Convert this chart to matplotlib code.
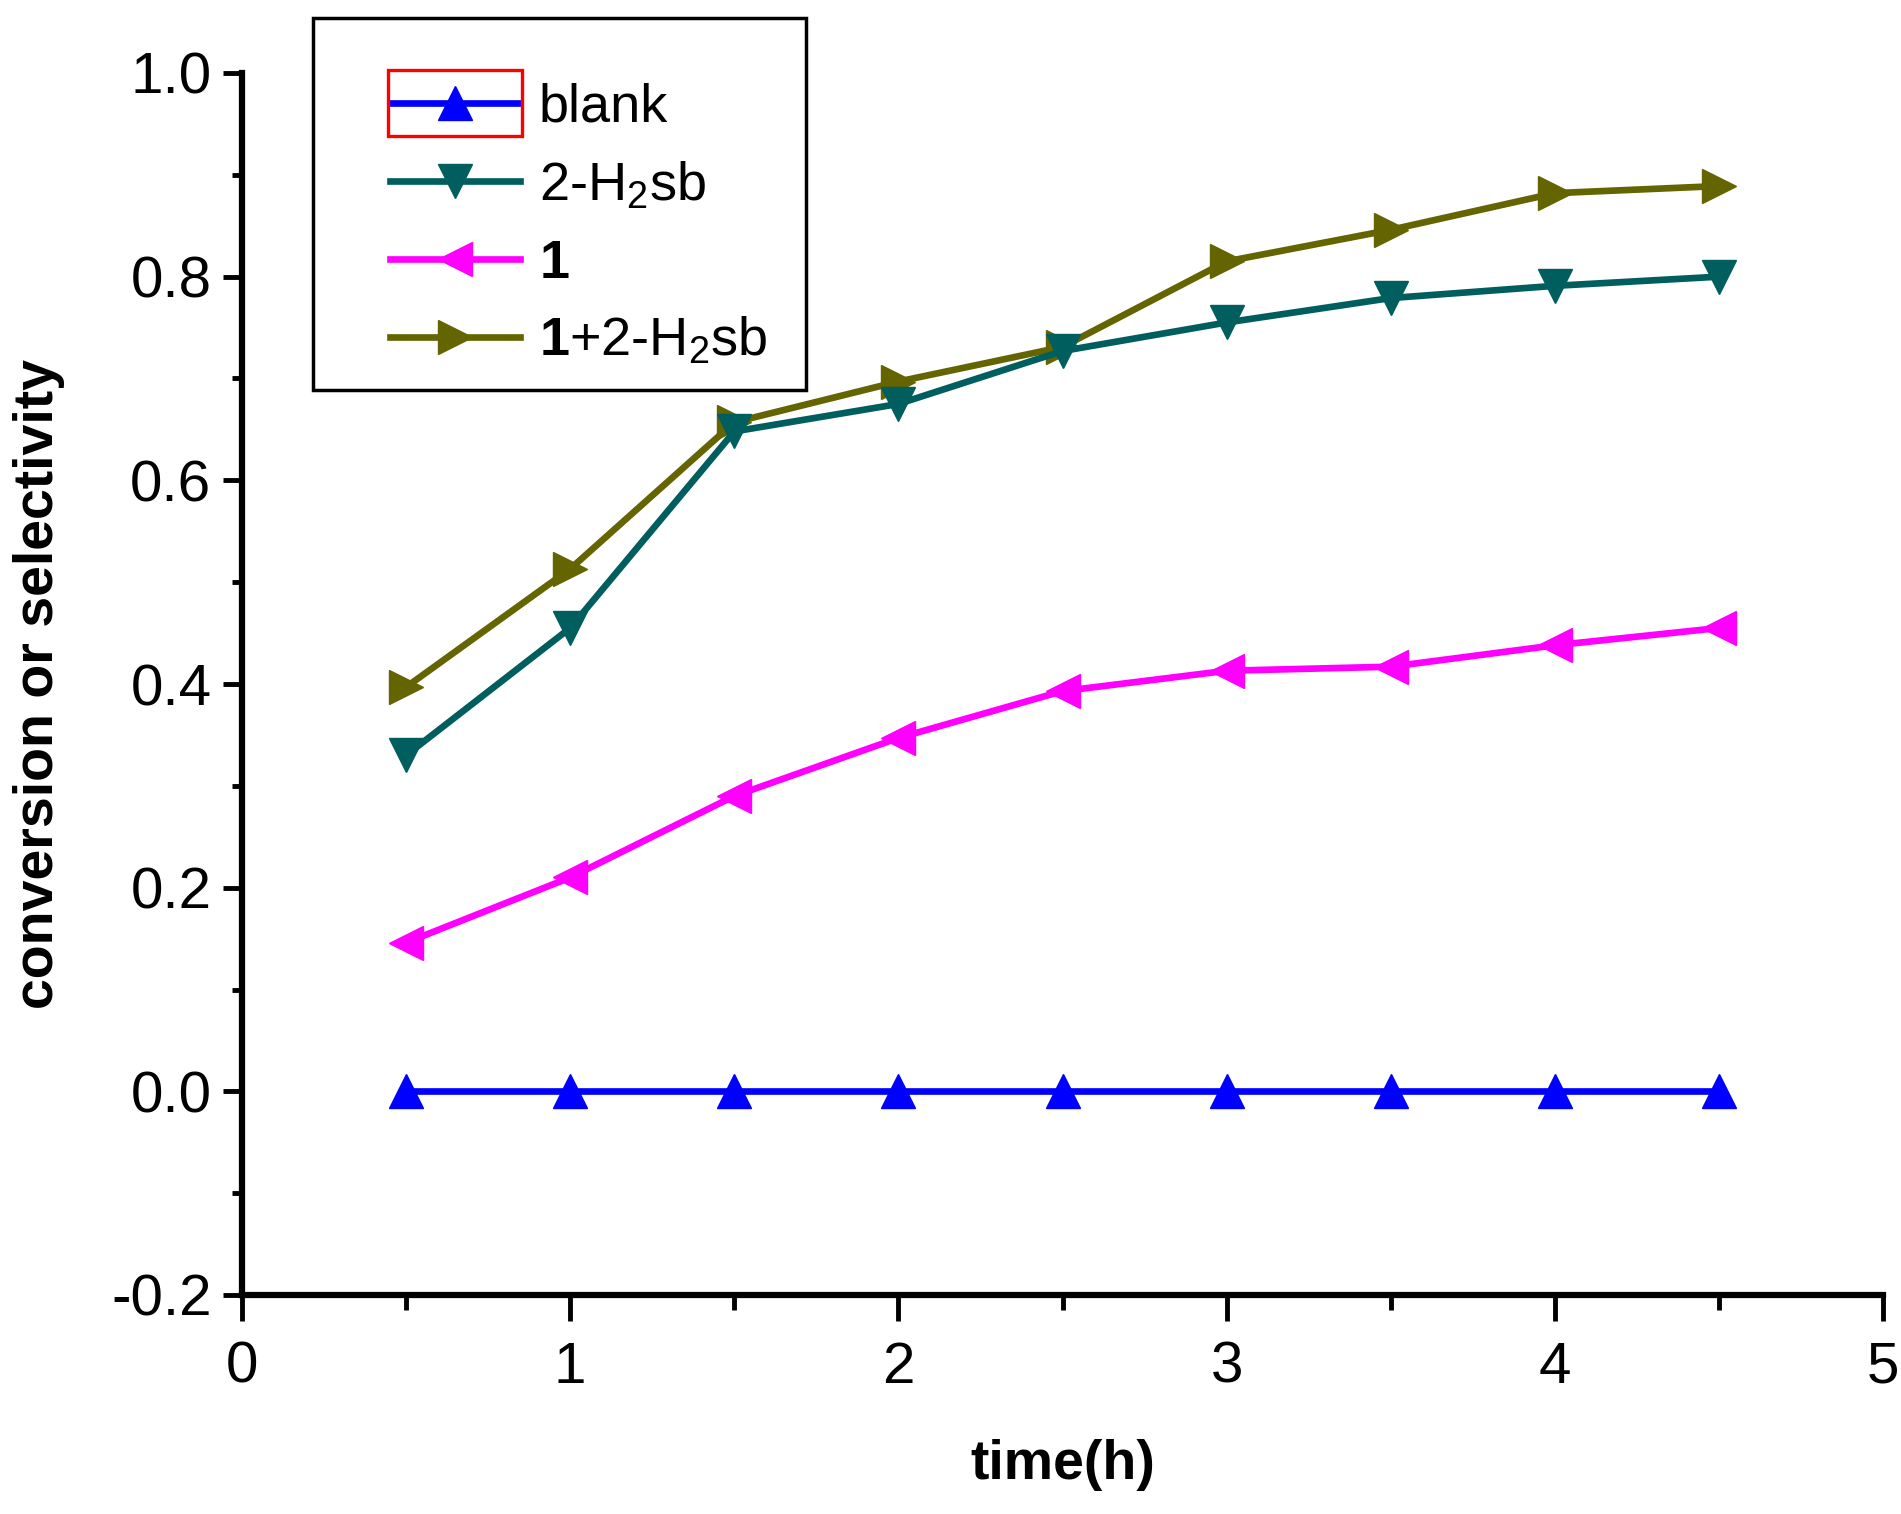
import matplotlib
matplotlib.use("Agg")
import matplotlib.pyplot as plt
from matplotlib.patches import Rectangle
from matplotlib.ticker import MultipleLocator
from matplotlib.transforms import IdentityTransform

plt.rcParams['font.family'] = ['Liberation Sans', 'DejaVu Sans']
plt.rcParams['mathtext.fontset'] = 'custom'
plt.rcParams['mathtext.rm'] = 'Liberation Sans'
plt.rcParams['mathtext.it'] = 'Liberation Sans:italic'
plt.rcParams['mathtext.bf'] = 'Liberation Sans:bold'

# data
time_h = [0.5, 1.0, 1.5, 2.0, 2.5, 3.0, 3.5, 4.0, 4.5]
blank = [0.0, 0.0, 0.0, 0.0, 0.0, 0.0, 0.0, 0.0, 0.0]
h2sb = [0.330, 0.455, 0.648, 0.675, 0.727, 0.755, 0.779, 0.791, 0.800]
cat1 = [0.146, 0.210, 0.290, 0.347, 0.393, 0.413, 0.417, 0.438, 0.455]
combo = [0.397, 0.513, 0.657, 0.697, 0.731, 0.815, 0.846, 0.882, 0.889]

labels = ['blank', '2-H$_2$sb', r'$\mathbf{1}$', r'$\mathbf{1}$+2-H$_2$sb']
xticks = [0, 1, 2, 3, 4, 5]
yticks = [-0.2, 0.0, 0.2, 0.4, 0.6, 0.8, 1.0]

W, H = 1901, 1514
fig = plt.figure(figsize=(W / 100, H / 100), dpi=100)
ax = fig.add_axes([242 / W, 1 - 1295 / H, (1883 - 242) / W, (1295 - 73) / H])

lw = 4.8
ms = 24
ax.plot(time_h, blank, color='#0000FF', marker='^', lw=lw, ms=ms, label=labels[0], clip_on=False, zorder=5)
ax.plot(time_h, h2sb, color='#005E5E', marker='v', lw=lw, ms=ms, label=labels[1], clip_on=False, zorder=4)
ax.plot(time_h, cat1, color='#FF00FF', marker='<', lw=lw, ms=ms, label=labels[2], clip_on=False, zorder=4)
ax.plot(time_h, combo, color='#646400', marker='>', lw=lw, ms=ms, label=labels[3], clip_on=False, zorder=3)

ax.set_xlim(0, 5)
ax.set_ylim(-0.2, 1.0)
ax.set_xticks(xticks)
ax.set_xticklabels([str(v) for v in xticks])
ax.set_yticks(yticks)
ax.set_yticklabels(['%.1f' % v for v in yticks])
ax.xaxis.set_minor_locator(MultipleLocator(0.5))
ax.yaxis.set_minor_locator(MultipleLocator(0.1))

for s in ['top', 'right']:
    ax.spines[s].set_visible(False)
for s in ['left', 'bottom']:
    ax.spines[s].set_linewidth(4.5)

ax.tick_params(axis='x', which='major', direction='out', length=19, width=3.5, labelsize=42, pad=14)
ax.tick_params(axis='x', which='minor', direction='out', length=11, width=3.5)
ax.tick_params(axis='y', which='major', direction='out', length=14, width=3.5, labelsize=42, pad=8)
ax.tick_params(axis='y', which='minor', direction='out', length=7, width=3.5)

ax.set_xlabel('time(h)', fontsize=40, fontweight='bold', labelpad=32)
ax.set_ylabel('conversion or selectivity', fontsize=40, fontweight='bold', labelpad=33)

# legend box (frame drawn separately, in pixel coordinates)
box = Rectangle((313, H - 390), 493, 372, transform=IdentityTransform(), facecolor='white',
                edgecolor='black', linewidth=2.5, zorder=8, clip_on=False)
ax.add_patch(box)

ident = IdentityTransform()
anchor = [390.0, H - 80.0]
leg = ax.legend(loc='upper left', bbox_to_anchor=(anchor[0], anchor[1]),
                bbox_transform=ident, borderaxespad=0,
                fontsize=39, frameon=False, handlelength=2.4, handletextpad=0.35,
                borderpad=0, labelspacing=0.5)
leg.set_zorder(10)

# align first handle to the target spot
fig.canvas.draw()
h0 = leg.legend_handles[0]
xd, yd = h0.get_xdata(), h0.get_ydata()
p0 = h0.get_transform().transform((min(xd), yd[0]))
dx = 390 - p0[0]
dy = (H - 103) - p0[1]
leg.set_bbox_to_anchor((anchor[0] + dx, anchor[1] + dy), transform=ident)

fig.canvas.draw()
h0 = leg.legend_handles[0]
xd, yd = h0.get_xdata(), h0.get_ydata()
tr = h0.get_transform()
p0 = tr.transform((min(xd), yd[0]))
p1 = tr.transform((max(xd), yd[0]))
cy = p0[1]
rect = Rectangle((p0[0] - 2, cy - 33), (p1[0] - p0[0]) + 4, 66, transform=None,
                 fill=False, edgecolor='red', linewidth=2.4, zorder=10)
fig.patches.append(rect)

fig.savefig('out.png', dpi=100)
